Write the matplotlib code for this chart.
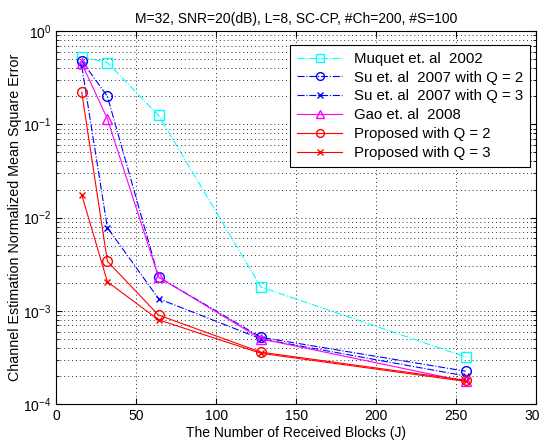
import matplotlib
matplotlib.use("Agg")
import matplotlib.pyplot as plt
from matplotlib.ticker import LogLocator, NullFormatter

plt.rcParams['font.family'] = ['Liberation Sans', 'DejaVu Sans']

J = [16, 32, 64, 128, 256]
muquet = [0.53, 0.46, 0.125, 1.8e-3, 3.2e-4]
su_q2 = [0.48, 0.20, 2.3e-3, 5.2e-4, 2.25e-4]
su_q3 = [0.42, 7.8e-3, 1.35e-3, 5.0e-4, 2.0e-4]
gao = [0.45, 0.115, 2.3e-3, 5.0e-4, 1.75e-4]
prop_q2 = [0.22, 3.4e-3, 9.0e-4, 3.6e-4, 1.8e-4]
prop_q3 = [0.0175, 2.05e-3, 8.0e-4, 3.5e-4, 1.75e-4]

labels = ["Muquet et. al  2002", "Su et. al  2007 with Q = 2",
          "Su et. al  2007 with Q = 3", "Gao et. al  2008",
          "Proposed with Q = 2", "Proposed with Q = 3"]

fig = plt.figure(figsize=(5.4, 4.45), dpi=100)
ax = fig.add_axes([0.104, 0.092, 0.889, 0.838])

lw = 0.8
ms = 7
ax.plot(J, muquet, '-.', color='cyan', marker='s', mfc='none', ms=ms, lw=lw, label=labels[0])
ax.plot(J, su_q2, '-.', color='blue', marker='o', mfc='none', ms=ms, lw=lw, label=labels[1])
ax.plot(J, su_q3, '-.', color='blue', marker='x', ms=5, lw=lw, label=labels[2])
ax.plot(J, gao, '-', color='magenta', marker='^', mfc='none', ms=ms, lw=lw, label=labels[3])
ax.plot(J, prop_q2, '-', color='red', marker='o', mfc='none', ms=ms, lw=lw, label=labels[4])
ax.plot(J, prop_q3, '-', color='red', marker='x', ms=5, lw=lw, label=labels[5])

ax.set_yscale('log')
ax.set_xlim(0, 300)
ax.set_ylim(1e-4, 1)
ax.set_xticks([0, 50, 100, 150, 200, 250, 300])
ax.yaxis.set_major_locator(LogLocator(base=10, numticks=10))
ax.yaxis.set_minor_locator(LogLocator(base=10, subs=range(2, 10), numticks=50))
ax.yaxis.set_minor_formatter(NullFormatter())

gls = (0, (1, 3))
ax.grid(True, which='major', axis='both', linestyle=gls, color='0.2', lw=0.7)
ax.grid(True, which='minor', axis='y', linestyle=gls, color='0.2', lw=0.7)
ax.tick_params(which='both', direction='in', top=True, right=True, labelsize=10)
ax.tick_params(which='major', length=4)
ax.tick_params(which='minor', length=2)
for s in ax.spines.values():
    s.set_linewidth(0.8)

ax.set_title("M=32, SNR=20(dB), L=8, SC-CP, #Ch=200, #S=100", fontsize=10, pad=6)
ax.set_xlabel("The Number of Received Blocks (J)", fontsize=10, labelpad=2)
ax.set_ylabel("Channel Estimation Normalized Mean Square Error", fontsize=10.3, labelpad=1)

leg = ax.legend(loc='upper right', bbox_to_anchor=(0.9875, 0.9625), borderaxespad=0,
                fontsize=10.8, fancybox=False, framealpha=1,
                edgecolor='black', handlelength=3.0, labelspacing=0.32,
                borderpad=0.45, handletextpad=0.8, markerscale=0.8)
leg.get_frame().set_linewidth(0.8)

fig.savefig("out.png", dpi=100)
